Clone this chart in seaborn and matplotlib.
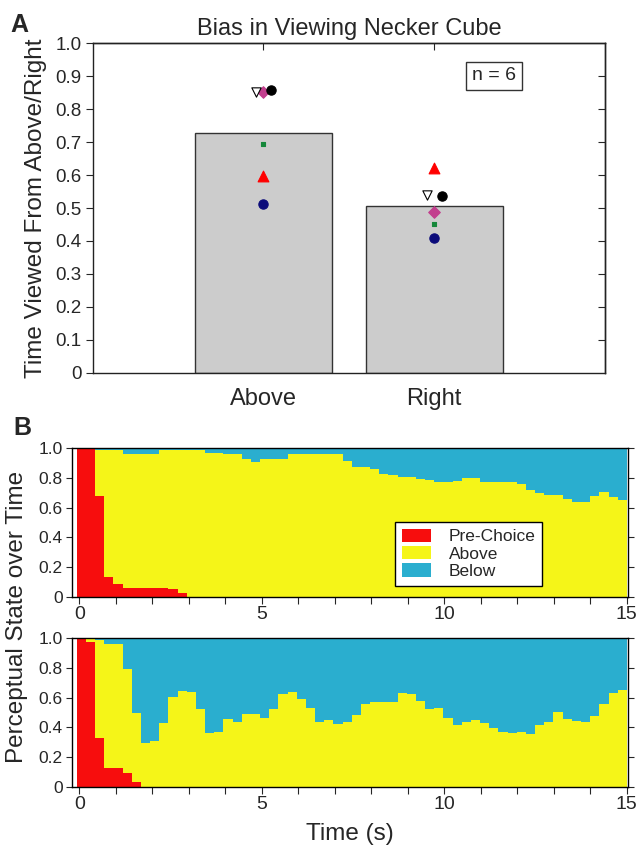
import numpy as np
import pandas as pd
import seaborn as sns
import matplotlib.pyplot as plt
from matplotlib.patches import Patch

# Panel A: fraction of time each subject saw the cube from above / from the right
conditions = ['Above', 'Right']
subjects = ['s1', 's2', 's3', 's4', 's5', 's6']
above_frac = [0.513, 0.596, 0.693, 0.853, 0.853, 0.858]
right_frac = [0.409, 0.621, 0.450, 0.487, 0.540, 0.537]

# Panel B: share of trials in each perceptual state, 60 time bins over 15 s
states = ['Pre-Choice', 'Above', 'Below']

pre_top = [1.0, 1.0, 0.68, 0.135, 0.087, 0.058, 0.058, 0.058, 0.058, 0.058,
           0.052, 0.025, 0, 0, 0, 0, 0, 0, 0, 0,
           0, 0, 0, 0, 0, 0, 0, 0, 0, 0,
           0, 0, 0, 0, 0, 0, 0, 0, 0, 0,
           0, 0, 0, 0, 0, 0, 0, 0, 0, 0,
           0, 0, 0, 0, 0, 0, 0, 0, 0, 0]
above_top = [0.0, 0.0, 0.31, 0.855, 0.903, 0.902, 0.902, 0.902, 0.902, 0.932,
             0.938, 0.965, 0.99, 0.99, 0.97, 0.97, 0.96, 0.96, 0.93, 0.91,
             0.93, 0.93, 0.93, 0.965, 0.96, 0.96, 0.96, 0.96, 0.96, 0.913,
             0.873, 0.873, 0.864, 0.829, 0.818, 0.807, 0.807, 0.796, 0.784, 0.776,
             0.776, 0.78, 0.802, 0.802, 0.773, 0.776, 0.776, 0.776, 0.762, 0.718,
             0.696, 0.684, 0.684, 0.658, 0.636, 0.636, 0.676, 0.707, 0.669, 0.651]
below_top = [0.0, 0.0, 0.01, 0.01, 0.01, 0.04, 0.04, 0.04, 0.04, 0.01,
             0.01, 0.01, 0.01, 0.01, 0.03, 0.03, 0.04, 0.04, 0.07, 0.09,
             0.07, 0.07, 0.07, 0.035, 0.04, 0.04, 0.04, 0.04, 0.04, 0.087,
             0.127, 0.127, 0.136, 0.171, 0.182, 0.193, 0.193, 0.204, 0.216, 0.224,
             0.224, 0.22, 0.198, 0.198, 0.227, 0.224, 0.224, 0.224, 0.238, 0.282,
             0.304, 0.316, 0.316, 0.342, 0.364, 0.364, 0.324, 0.293, 0.331, 0.349]

pre_bottom = [1.0, 0.973, 0.327, 0.123, 0.123, 0.089, 0.029, 0, 0, 0,
              0, 0, 0, 0, 0, 0, 0, 0, 0, 0,
              0, 0, 0, 0, 0, 0, 0, 0, 0, 0,
              0, 0, 0, 0, 0, 0, 0, 0, 0, 0,
              0, 0, 0, 0, 0, 0, 0, 0, 0, 0,
              0, 0, 0, 0, 0, 0, 0, 0, 0, 0]
above_bottom = [0.0, 0.027, 0.662, 0.839, 0.839, 0.702, 0.467, 0.296, 0.307, 0.429,
                0.607, 0.647, 0.64, 0.524, 0.362, 0.369, 0.458, 0.436, 0.491, 0.491,
                0.462, 0.522, 0.622, 0.64, 0.589, 0.533, 0.436, 0.447, 0.422, 0.433,
                0.484, 0.558, 0.573, 0.573, 0.569, 0.629, 0.624, 0.58, 0.522, 0.533,
                0.462, 0.418, 0.433, 0.451, 0.429, 0.396, 0.369, 0.362, 0.367, 0.356,
                0.418, 0.436, 0.504, 0.458, 0.444, 0.436, 0.473, 0.558, 0.629, 0.651]
below_bottom = [0.0, 0.0, 0.011, 0.038, 0.038, 0.209, 0.504, 0.704, 0.693, 0.571,
                0.393, 0.353, 0.36, 0.476, 0.638, 0.631, 0.542, 0.564, 0.509, 0.509,
                0.538, 0.478, 0.378, 0.36, 0.411, 0.467, 0.564, 0.553, 0.578, 0.567,
                0.516, 0.442, 0.427, 0.427, 0.431, 0.371, 0.376, 0.42, 0.478, 0.467,
                0.538, 0.582, 0.567, 0.549, 0.571, 0.604, 0.631, 0.638, 0.633, 0.644,
                0.582, 0.564, 0.496, 0.542, 0.556, 0.564, 0.527, 0.442, 0.371, 0.349]

# styles
subj_markers = ['o', '^', 's', 'D', 'v', 'o']
subj_colors = ['#0b0b7a', '#ff0000', '#15873a', '#c23f8e', 'white', 'black']
subj_edges = ['#0b0b7a', '#ff0000', '#15873a', '#c23f8e', 'black', 'black']
subj_sizes = [45, 60, 12, 35, 45, 45]
subj_dx = [0, 0, 0, 0, -0.045, 0.045]
state_colors = {'Pre-Choice': '#f70d0d', 'Above': '#f5f518', 'Below': '#2aaecf'}
bin_edges = list(np.linspace(-0.07, 15.0, 61))

sns.set_style('ticks')
plt.rcParams['font.family'] = ['Liberation Sans', 'DejaVu Sans']
plt.rcParams['axes.linewidth'] = 1.0
plt.rcParams['axes.edgecolor'] = '#222222'

fig = plt.figure(figsize=(6.36, 8.48), dpi=100)

# ---------------- Panel A ----------------
ax_a = fig.add_axes([0.1458, 0.5605, 0.8055, 0.3884])
df_a = pd.DataFrame({
    'subject': subjects * 2,
    'condition': ['Above'] * 6 + ['Right'] * 6,
    'frac': above_frac + right_frac,
})
sns.barplot(data=df_a, x='condition', y='frac', order=conditions, estimator='mean',
            errorbar=None, color='#cccccc', saturation=1, edgecolor='#333333',
            linewidth=1, width=0.8, ax=ax_a)
for i in range(len(subjects)):
    ax_a.scatter([0 + subj_dx[i], 1 + subj_dx[i]], [above_frac[i], right_frac[i]],
                 marker=subj_markers[i], s=subj_sizes[i], c=subj_colors[i],
                 edgecolors=subj_edges[i], linewidths=0.8, zorder=4)

ax_a.set_xlim(-1, 2)
ax_a.set_ylim(0, 1)
ax_a.set_yticks(np.arange(0, 1.01, 0.1))
ax_a.set_yticklabels(['0'] + ['%.1f' % v for v in np.arange(0.1, 1.01, 0.1)])
ax_a.tick_params(axis='y', direction='out', length=5, labelsize=13.5, pad=3)
ax_a.tick_params(axis='x', length=0, labelsize=17, pad=11)
ax_a.set_xlabel('')
ax_a.set_ylabel('Time Viewed From Above/Right', fontsize=17.5, labelpad=6)
ax_a.set_title('Bias in Viewing Necker Cube', fontsize=17, pad=6)
for s in ax_a.spines.values():
    s.set_visible(True)
top_a = ax_a.secondary_xaxis('top')
top_a.set_xticks([0, 1])
top_a.set_xticklabels([])
top_a.tick_params(direction='in', length=5)
right_a = ax_a.secondary_yaxis('right')
right_a.set_yticks(np.arange(0.1, 1.0, 0.1))
right_a.set_yticklabels([])
right_a.tick_params(direction='in', length=5)
ax_a.text(0.783, 0.901, 'n = 6', transform=ax_a.transAxes, ha='center', va='center',
          fontsize=14, bbox=dict(boxstyle='square,pad=0.3', fc='white', ec='#333333', lw=1))

# ---------------- Panel B ----------------
def draw_states(ax, pre, above, below):
    edges = np.array(bin_edges)
    centers = (edges[:-1] + edges[1:]) / 2
    df_b = pd.DataFrame({
        't': np.concatenate([centers] * 3),
        'state': ['Pre-Choice'] * 60 + ['Above'] * 60 + ['Below'] * 60,
        'p': list(pre) + list(above) + list(below),
    })
    sns.histplot(data=df_b, x='t', weights='p', hue='state',
                 hue_order=['Below', 'Above', 'Pre-Choice'], palette=state_colors,
                 bins=bin_edges, multiple='stack', element='bars', linewidth=0,
                 alpha=1, shrink=1, legend=False, ax=ax)
    ax.set_xlim(-0.19, 15.04)
    ax.set_ylim(0, 1)
    ax.set_xticks(np.arange(0, 16, 1))
    ax.set_xticklabels([str(v) if v % 5 == 0 else '' for v in range(16)])
    ax.set_yticks(np.arange(0, 1.01, 0.2))
    ax.set_yticklabels(['0', '0.2', '0.4', '0.6', '0.8', '1.0'])
    ax.tick_params(axis='x', direction='out', length=5, labelsize=14, pad=2)
    ax.tick_params(axis='y', direction='out', length=4, labelsize=12.5, pad=3,
                   right=True, labelright=False)
    ax.set_xlabel('')
    ax.set_ylabel('')
    for s in ax.spines.values():
        s.set_visible(True)
        s.set_color('black')

ax_b1 = fig.add_axes([0.1137, 0.2963, 0.8742, 0.175])
ax_b2 = fig.add_axes([0.1137, 0.0723, 0.8742, 0.175])
draw_states(ax_b1, pre_top, above_top, below_top)
draw_states(ax_b2, pre_bottom, above_bottom, below_bottom)
ax_b2.set_xlabel('Time (s)', fontsize=17.5, labelpad=7)
fig.text(0.027, 0.272, 'Perceptual State over Time', rotation=90, ha='center',
         va='center', fontsize=17.5)

handles = [Patch(facecolor=state_colors[s], edgecolor='none') for s in states]
ax_b1.legend(handles, states, loc='lower left', bbox_to_anchor=(0.58, 0.072),
             borderaxespad=0, fontsize=12.5, frameon=True, fancybox=False,
             edgecolor='black', framealpha=1, handlelength=1.7, handleheight=0.8,
             labelspacing=0.1, borderpad=0.4, handletextpad=1.0)

fig.text(10 / 636, 1 - 32 / 848, 'A', fontsize=18, fontweight='bold')
fig.text(13 / 636, 1 - 435 / 848, 'B', fontsize=18, fontweight='bold')

fig.savefig('out.png', dpi=100)
